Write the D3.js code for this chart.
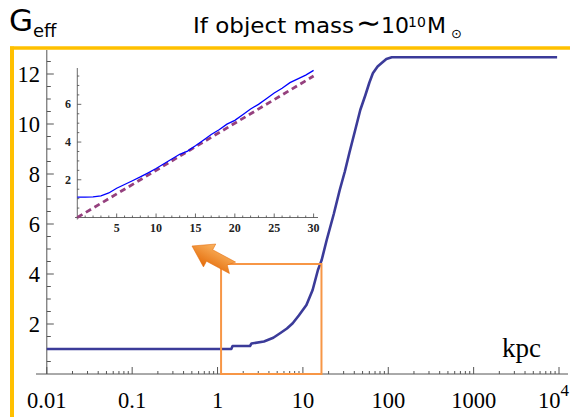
<!DOCTYPE html>
<html>
<head>
<meta charset="utf-8">
<script src="https://cdn.jsdelivr.net/npm/d3@7"></script>
<style>
  body { margin: 0; background: #fff; }
  svg { display: block; }
</style>
</head>
<body>
<div id="chart"></div>
<script>
// main curve: G_eff vs r (kpc), log x
const mainR = [0.01, 1.45, 1.5, 2.4, 2.5, 3.5, 4.5, 5.4, 6.5, 7.6, 9, 11, 13, 15, 16.6, 19, 23, 27, 31, 35, 41, 47, 54, 60, 66, 75, 83, 95, 110, 9500];
const mainG = [1, 1, 1.12, 1.12, 1.22, 1.3, 1.45, 1.63, 1.82, 2.03, 2.35, 2.76, 3.36, 4.16, 4.56, 5.36, 6.4, 7.36, 8.1, 8.84, 9.76, 10.56, 11.16, 11.65, 12.03, 12.3, 12.43, 12.6, 12.67, 12.67];
const xTickVals = [0.01, 0.1, 1, 10, 100, 1000, 10000];
const xTickText = ["0.01", "0.1", "1", "10", "100", "1000", "10"];
const yTickVals = [2, 4, 6, 8, 10, 12];

// inset: linear r (kpc)
const insetR = [0, 1, 2, 3, 4, 5, 6, 7, 8, 9, 10, 11, 12, 13, 14, 15, 16, 17, 18, 19, 20, 21, 22, 23, 24, 25, 26, 27, 28, 29, 30];
const insetG = [1.08, 1.08, 1.09, 1.15, 1.3, 1.55, 1.75, 1.95, 2.15, 2.37, 2.6, 2.85, 3.1, 3.35, 3.52, 3.8, 4.1, 4.4, 4.65, 4.95, 5.15, 5.45, 5.75, 6.0, 6.3, 6.6, 6.85, 7.15, 7.35, 7.55, 7.8];
const lineR = [0, 30];
const lineG = [0, 7.5];
const insetXTicks = [5, 10, 15, 20, 25, 30];
const insetYTicks = [2, 4, 6];

// highlighted region
const boxR = [1.1, 16.5];
const boxG = [0, 4.4];

const W = 570, H = 417;
const SERIF = '"Liberation Serif", "Times New Roman", Times, serif';
const SANS = '"DejaVu Sans", Verdana, sans-serif';
const svg = d3.select("#chart").append("svg").attr("width", W).attr("height", H);

// frame
svg.append("line").attr("x1", 10).attr("x2", 570).attr("y1", 48).attr("y2", 48)
  .attr("stroke", "#ffc000").attr("stroke-width", 3.5);
svg.append("line").attr("x1", 12).attr("x2", 12).attr("y1", 46.5).attr("y2", 417)
  .attr("stroke", "#ffc000").attr("stroke-width", 4);

// header texts
const g1 = svg.append("text").style("font-family", SANS).attr("x", 9).attr("y", 31).attr("fill", "#000");
g1.append("tspan").attr("font-size", 31).text("G");
g1.append("tspan").attr("font-size", 18).attr("dy", 6).text("eff");

const t = svg.append("text").style("font-family", SANS).attr("y", 33).attr("font-size", 22).attr("fill", "#000");
t.append("tspan").attr("x", 193).attr("textLength", 161).attr("lengthAdjust", "spacingAndGlyphs").text("If object mass");
t.append("tspan").attr("x", 356).attr("font-size", 30).text("\u223C");
t.append("tspan").attr("x", 381).attr("font-size", 22).text("10");
t.append("tspan").attr("x", 408).attr("font-size", 14).attr("dy", -6).text("10");
t.append("tspan").attr("x", 427).attr("dy", 6).text("M");
t.append("tspan").attr("x", 451).attr("font-size", 13).attr("dy", 5).text("\u2299");

// main scales
const x = d3.scaleLog().domain([0.01, 10000]).range([46.8, 559]);
const y = d3.scaleLinear().domain([0, 13]).range([374, 49]);

const axisColor = "#555";
// x axis line
svg.append("line").attr("x1", 36).attr("x2", 568).attr("y1", y(0)).attr("y2", y(0))
  .attr("stroke", axisColor).attr("stroke-width", 1);
// log ticks
const minorX = [];
for (let e = -2; e < 4; e++) for (let k = 2; k <= 9; k++) minorX.push(k * Math.pow(10, e));
svg.selectAll(".xminor").data(minorX).enter().append("line")
  .attr("x1", d => x(d)).attr("x2", d => x(d)).attr("y1", y(0)).attr("y2", y(0) - 3)
  .attr("stroke", axisColor);
svg.selectAll(".xmajor").data(xTickVals).enter().append("line")
  .attr("x1", d => x(d)).attr("x2", d => x(d)).attr("y1", y(0)).attr("y2", y(0) - 7)
  .attr("stroke", axisColor);
svg.selectAll(".xlab").data(xTickVals).enter().append("text")
  .style("font-family", SERIF)
  .attr("x", d => d === 10000 ? 569 : x(d)).attr("y", 408)
  .attr("text-anchor", d => d === 10000 ? "end" : "middle")
  .attr("font-size", 22.5).attr("fill", "#000")
  .each(function(d, i) {
    const s = d3.select(this);
    s.append("tspan").text(xTickText[i]);
    if (d === 10000) s.append("tspan").attr("font-size", 17).attr("dy", -12).text("4");
  });

// y axis
svg.append("line").attr("x1", x(0.01)).attr("x2", x(0.01)).attr("y1", 50).attr("y2", y(0))
  .attr("stroke", axisColor);
const minorY = d3.range(0.5, 13, 0.5).filter(v => v % 2 !== 0);
svg.selectAll(".yminor").data(minorY).enter().append("line")
  .attr("x1", x(0.01)).attr("x2", x(0.01) + 4).attr("y1", d => y(d)).attr("y2", d => y(d))
  .attr("stroke", axisColor);
svg.selectAll(".ymajor").data(yTickVals).enter().append("line")
  .attr("x1", x(0.01)).attr("x2", x(0.01) + 7).attr("y1", d => y(d)).attr("y2", d => y(d))
  .attr("stroke", axisColor);
svg.selectAll(".ylab").data(yTickVals).enter().append("text")
  .style("font-family", SERIF)
  .attr("x", 40).attr("y", d => y(d) + 8).attr("text-anchor", "end")
  .attr("font-size", 22.5).attr("fill", "#000")
  .text(d => d);

svg.append("text").style("font-family", SERIF).attr("x", 502).attr("y", 357)
  .attr("font-size", 27).attr("fill", "#000").text("kpc");

// main curve
const mainData = mainR.map((r, i) => [r, mainG[i]]);
svg.append("path").datum(mainData)
  .attr("fill", "none").attr("stroke", "#3b3b99").attr("stroke-width", 2.6)
  .attr("stroke-linejoin", "round")
  .attr("d", d3.line().x(d => x(d[0])).y(d => y(d[1])));

// orange box
svg.append("rect")
  .attr("x", x(boxR[0])).attr("y", y(boxG[1]))
  .attr("width", x(boxR[1]) - x(boxR[0])).attr("height", y(boxG[0]) - y(boxG[1]))
  .attr("fill", "none").attr("stroke", "#f79646").attr("stroke-width", 2);

// arrow
const defs = svg.append("defs");
const grad = defs.append("linearGradient").attr("id", "ag").attr("x1", 0).attr("x2", 0).attr("y1", 0).attr("y2", 1);
grad.append("stop").attr("offset", "0%").attr("stop-color", "#fbb562");
grad.append("stop").attr("offset", "100%").attr("stop-color", "#e46c0a");
const ang = Math.atan2(247 - 268, 193 - 232) * 180 / Math.PI;
svg.append("path")
  .attr("d", "M0,0 L20,-13 L20,-6.5 L46,-6.5 L40,0 L46,6.5 L20,6.5 L20,13 Z")
  .attr("transform", `translate(192,246) rotate(${ang + 180})`)
  .attr("fill", "url(#ag)").attr("stroke", "#e46c0a").attr("stroke-width", 0.5);

// inset
const ix = d3.scaleLinear().domain([0, 30]).range([77.3, 313.6]);
const iy = d3.scaleLinear().domain([0, 7.9]).range([217.5, 68.5]);
const insetAxis = "#444";
svg.append("line").attr("x1", 75).attr("x2", 318).attr("y1", iy(0)).attr("y2", iy(0)).attr("stroke", insetAxis).attr("stroke-width", 0.8);
svg.append("line").attr("x1", ix(0)).attr("x2", ix(0)).attr("y1", 68).attr("y2", iy(0) + 2).attr("stroke", insetAxis).attr("stroke-width", 0.8);
svg.selectAll(".ixt").data(d3.range(1, 31)).enter().append("line")
  .attr("x1", d => ix(d)).attr("x2", d => ix(d)).attr("y1", iy(0))
  .attr("y2", d => iy(0) - (d % 5 === 0 ? 4 : 2)).attr("stroke", insetAxis).attr("stroke-width", 0.8);
svg.selectAll(".iyt").data(d3.range(0.5, 7.9, 0.5)).enter().append("line")
  .attr("x1", ix(0)).attr("x2", d => ix(0) + (d % 2 === 0 ? 4 : 2))
  .attr("y1", d => iy(d)).attr("y2", d => iy(d)).attr("stroke", insetAxis).attr("stroke-width", 0.8);
svg.selectAll(".ixl").data(insetXTicks).enter().append("text")
  .style("font-family", SERIF)
  .attr("x", d => ix(d)).attr("y", 232).attr("text-anchor", "middle")
  .attr("font-size", 12).attr("font-weight", "bold").attr("fill", "#222")
  .text(d => d);
svg.selectAll(".iyl").data(insetYTicks).enter().append("text")
  .style("font-family", SERIF)
  .attr("x", 71).attr("y", d => iy(d) + 4).attr("text-anchor", "end")
  .attr("font-size", 12).attr("font-weight", "bold").attr("fill", "#222")
  .text(d => d);

const dashData = lineR.map((r, i) => [r, lineG[i]]);
svg.append("path").datum(dashData)
  .attr("fill", "none").attr("stroke", "#95407e").attr("stroke-width", 2.8)
  .attr("stroke-dasharray", "6,4")
  .attr("d", d3.line().x(d => ix(d[0])).y(d => iy(d[1])));

const insetData = insetR.map((r, i) => [r, insetG[i]]);
svg.append("path").datum(insetData)
  .attr("fill", "none").attr("stroke", "#0000ff").attr("stroke-width", 1.3)
  .attr("d", d3.line().x(d => ix(d[0])).y(d => iy(d[1])));
</script>
</body>
</html>
